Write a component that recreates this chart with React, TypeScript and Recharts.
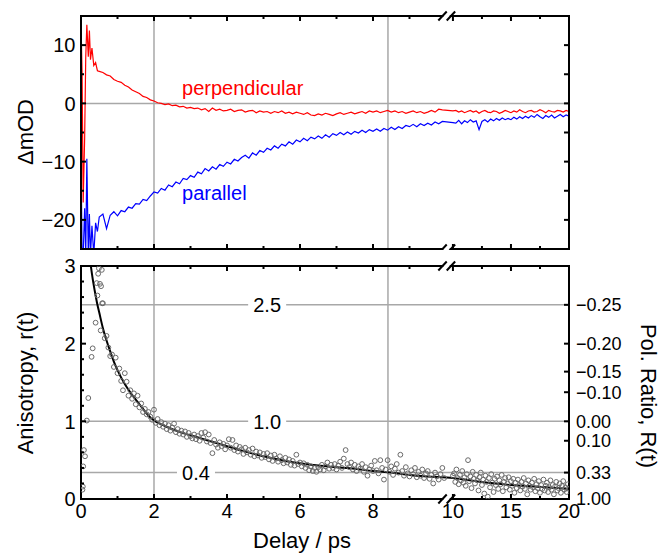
import React from "react";
import {
  ComposedChart,
  Line,
  ReferenceDot,
  ReferenceLine,
  Scatter,
  XAxis,
  YAxis,
} from "recharts";

// ---- values ----

// pump-probe traces (ps, mOD)
const traceTimes = [
  0, 0.03, 0.06, 0.1, 0.13, 0.16, 0.2, 0.23, 0.26, 0.3, 0.35, 0.4, 0.45, 0.5,
  0.6, 0.7, 0.8, 0.9, 1, 1.1, 1.2, 1.3, 1.4, 1.5, 1.6, 1.7, 1.8, 1.9, 2,
  2.1, 2.2, 2.3, 2.4, 2.5, 2.6, 2.7, 2.8, 2.9, 3,
  3.1, 3.2, 3.3, 3.4, 3.5, 3.6, 3.7, 3.8, 3.9, 4,
  4.1, 4.2, 4.3, 4.4, 4.5, 4.6, 4.7, 4.8, 4.9, 5,
  5.1, 5.2, 5.3, 5.4, 5.5, 5.6, 5.7, 5.8, 5.9, 6,
  6.1, 6.2, 6.3, 6.4, 6.5, 6.6, 6.7, 6.8, 6.9, 7,
  7.1, 7.2, 7.3, 7.4, 7.5, 7.6, 7.7, 7.8, 7.9, 8,
  8.1, 8.2, 8.3, 8.4, 8.5, 8.6, 8.7, 8.8, 8.9, 9,
  9.1, 9.2, 9.3, 9.4, 9.5, 9.6, 9.7, 9.8, 9.9, 10,
  10.25, 10.5, 10.75, 11, 11.25, 11.5, 11.75, 12, 12.25, 12.5,
  12.75, 13, 13.25, 13.5, 13.75, 14, 14.25, 14.5, 14.75, 15,
  15.25, 15.5, 15.75, 16, 16.25, 16.5, 16.75, 17, 17.25, 17.5,
  17.75, 18, 18.25, 18.5, 18.75, 19, 19.25, 19.5, 19.75, 20,
];

const perpendicular = [
  14, 5, -17, -6, 8, 13.5, 8, 12.5, 7.5, 9.5, 6.5, 7, 5.6, 5.5,
  5.3, 4.9, 4.7, 4.1, 3.8, 3.6, 3.1, 2.8, 2.3, 2.0, 1.7, 1.2, 1.0, 0.6, 0.4,
  0.1, 0.0, -0.2, -0.1, -0.4, -0.3, -0.6, -0.5, -0.8, -0.7,
  -0.9, -0.8, -1.1, -0.9, -1.4, -0.8, -1.2, -1.0, -1.3, -1.2,
  -1.0, -1.4, -1.2, -1.1, -1.5, -1.3, -1.2, -1.6, -1.3, -1.5,
  -1.4, -1.7, -1.4, -1.6, -1.3, -1.7, -1.5, -1.8, -1.5, -1.7,
  -1.9, -1.6, -2.0, -2.1, -1.8, -2.0, -1.7, -1.9, -2.1, -1.8,
  -1.6, -1.9, -1.7, -1.5, -1.8, -1.6, -1.4, -1.7, -1.3, -1.5,
  -1.3, -1.6, -1.4, -1.2, -1.5, -1.3, -1.6, -1.4, -1.7, -1.5,
  -1.3, -1.6, -1.4, -1.7, -1.5, -1.2, -1.5, -1.0, -1.1, -1.3,
  -1.2, -1.5, -1.3, -1.6, -1.4, -1.2, -1.5, -1.3, -1.7, -1.4,
  -1.2, -1.5, -1.6, -1.3, -1.4, -1.7, -1.5, -1.2, -1.4, -1.6,
  -1.3, -1.5, -1.1, -1.4, -1.6, -1.3, -1.2, -1.5, -1.4, -1.1,
  -1.3, -1.6, -1.2, -1.4, -1.5, -1.2, -1.3, -1.5, -1.2, -1.4,
];

const parallel = [
  -9, -26, -26, -18, -26, -9.5, -26, -19, -26, -21, -26, -20.5, -22, -19.5,
  -19.0, -21.5, -19.2, -18.6, -19.3, -18.4, -18.6, -17.8, -18.0, -17.2, -17.3, -16.5, -16.7, -15.9, -15.2,
  -15.4, -14.6, -14.9, -14.0, -14.3, -13.5, -13.8, -12.9, -13.1, -12.4,
  -12.7, -11.8, -12.1, -11.2, -11.6, -10.9, -11.3, -10.5, -10.8, -10.1,
  -10.4, -9.6, -9.9, -9.3, -8.9, -9.4, -8.5, -8.9, -8.1, -8.4,
  -7.7, -8.0, -7.3, -7.7, -7.0, -7.3, -6.6, -7.0, -6.3, -6.6,
  -6.0, -6.4, -5.8, -6.1, -5.6, -6.0, -5.4, -5.8, -5.2, -5.5,
  -5.0, -5.4, -4.9, -5.3, -4.8, -5.1, -4.6, -5.0, -4.5, -4.8,
  -4.4, -4.8, -4.3, -4.6, -4.1, -4.5, -4.0, -4.3, -3.8, -4.0,
  -3.6, -4.0, -3.5, -3.8, -3.4, -3.7, -3.2, -3.5, -3.1, -3.3,
  -3.4, -2.9, -3.5, -3.0, -3.3, -2.8, -3.2, -3.0, -4.5, -3.1,
  -2.8, -3.2, -2.7, -3.0, -2.6, -2.9, -2.5, -2.8, -2.6, -2.8,
  -2.4, -2.7, -2.3, -2.6, -2.2, -2.5, -2.1, -2.4, -1.9, -2.3,
  -2.6, -2.1, -2.4, -2.0, -2.5, -2.2, -1.9, -2.3, -2.0, -2.2,
];

// anisotropy points (ps, r)
const anisotropyTimes = [
  0.04, 0.05, 0.06, 0.08, 0.11, 0.16, 0.2, 0.29, 0.32, 0.4, 0.43, 0.45, 0.47, 0.49, 0.52, 0.54, 0.55, 0.57, 0.58, 0.6,
  0.65, 0.7, 0.75, 0.8, 0.85, 0.9, 0.95, 1,
  1.05, 1.1, 1.15, 1.2, 1.25, 1.3, 1.35, 1.4, 1.45, 1.5, 1.55, 1.6, 1.65, 1.7, 1.75, 1.8, 1.85, 1.9, 1.95, 2,
  2.05, 2.1, 2.15, 2.2, 2.25, 2.3, 2.35, 2.4, 2.45, 2.5, 2.55, 2.6, 2.65, 2.7, 2.75, 2.8, 2.85, 2.9, 2.95, 3,
  3.05, 3.1, 3.15, 3.2, 3.25, 3.3, 3.35, 3.4, 3.45, 3.5, 3.55, 3.6, 3.65, 3.7, 3.75, 3.8, 3.85, 3.9, 3.95, 4,
  4.05, 4.1, 4.15, 4.2, 4.25, 4.3, 4.35, 4.4, 4.45, 4.5, 4.55, 4.6, 4.65, 4.7, 4.75, 4.8, 4.85, 4.9, 4.95, 5,
  5.05, 5.1, 5.15, 5.2, 5.25, 5.3, 5.35, 5.4, 5.45, 5.5, 5.55, 5.6, 5.65, 5.7, 5.75, 5.8, 5.85, 5.9, 5.95, 6,
  6.05, 6.1, 6.15, 6.2, 6.25, 6.3, 6.35, 6.4, 6.45, 6.5, 6.55, 6.6, 6.65, 6.7, 6.75, 6.8, 6.85, 6.9, 6.95, 7,
  7.05, 7.1, 7.15, 7.2, 7.25, 7.3, 7.35, 7.4, 7.45, 7.5, 7.55, 7.6, 7.65, 7.7, 7.75, 7.8, 7.85, 7.9, 7.95, 8,
  8.05, 8.1, 8.15, 8.2, 8.25, 8.3, 8.35, 8.4, 8.45, 8.5, 8.55, 8.6, 8.65, 8.7, 8.75, 8.8, 8.85, 8.9, 8.95, 9,
  9.05, 9.1, 9.15, 9.2, 9.25, 9.3, 9.35, 9.4, 9.45, 9.5, 9.55, 9.6, 9.65, 9.7, 9.75, 9.8, 9.85, 9.9, 9.95, 10,
  10.1, 10.2, 10.3, 10.4, 10.5, 10.6, 10.7, 10.8, 10.9, 11,
  11.1, 11.2, 11.3, 11.4, 11.5, 11.6, 11.7, 11.8, 11.9, 12,
  12.1, 12.2, 12.3, 12.4, 12.5, 12.6, 12.7, 12.8, 12.9, 13,
  13.1, 13.2, 13.3, 13.4, 13.5, 13.6, 13.7, 13.8, 13.9, 14,
  14.1, 14.2, 14.3, 14.4, 14.5, 14.6, 14.7, 14.8, 14.9, 15,
  15.1, 15.2, 15.3, 15.4, 15.5, 15.6, 15.7, 15.8, 15.9, 16,
  16.1, 16.2, 16.3, 16.4, 16.5, 16.6, 16.7, 16.8, 16.9, 17,
  17.1, 17.2, 17.3, 17.4, 17.5, 17.6, 17.7, 17.8, 17.9, 18,
  18.1, 18.2, 18.3, 18.4, 18.5, 18.6, 18.7, 18.8, 18.9, 19,
  19.1, 19.2, 19.3, 19.4, 19.5, 19.6, 19.7, 19.8, 19.9, 20,
];

const anisotropy = [
  0.12, 0.16, 0.42, 0.63, 0.55, 1.01, 1.3, 1.83, 1.94, 2.27, 2.78, 2.62, 2.9, 2.97, 2.77, 2.17, 2.74, 2.95, 2.52, 2.52,
  2.07, 2.1, 1.95, 1.84, 1.86, 1.7, 1.82, 1.62,
  1.68, 1.52, 1.4, 1.62, 1.51, 1.33, 1.4, 1.29, 1.36, 1.22, 1.33, 1.18, 1.23, 1.12, 1.16, 1.09, 1.12, 1.06, 1.02, 1.15,
  0.98, 1.03, 0.95, 0.99, 0.93, 0.97, 0.9, 0.95, 0.88, 0.92, 0.97, 0.86, 0.9, 0.84, 0.88, 0.83, 0.87, 0.8, 0.85, 0.81,
  0.78, 0.83, 0.77, 0.81, 0.75, 0.85, 0.79, 0.86, 0.74, 0.83, 0.72, 0.59, 0.76, 0.7, 0.66, 0.73, 0.68, 0.71, 0.64, 0.69,
  0.77, 0.66, 0.76, 0.63, 0.69, 0.61, 0.67, 0.64, 0.58, 0.66, 0.6, 0.63, 0.57, 0.65, 0.55, 0.61, 0.56, 0.6, 0.53, 0.58,
  0.54, 0.59, 0.51, 0.56, 0.49, 0.57, 0.52, 0.48, 0.55, 0.5, 0.46, 0.53, 0.47, 0.51, 0.44, 0.49, 0.43, 0.57, 0.45, 0.47,
  0.42, 0.46, 0.4, 0.44, 0.37, 0.42, 0.36, 0.4, 0.35, 0.41, 0.38, 0.44, 0.37, 0.42, 0.47, 0.39, 0.44, 0.4, 0.45, 0.38,
  0.43, 0.48, 0.4, 0.52, 0.63, 0.45, 0.41, 0.47, 0.38, 0.44, 0.36, 0.42, 0.39, 0.45, 0.35, 0.41, 0.3, 0.38, 0.43, 0.36,
  0.49, 0.37, 0.33, 0.5, 0.4, 0.25, 0.38, 0.5, 0.35, 0.42, 0.31, 0.39, 0.45, 0.34, 0.57, 0.36, 0.3, 0.41, 0.33, 0.29,
  0.37, 0.32, 0.4, 0.28, 0.35, 0.3, 0.38, 0.27, 0.33, 0.36, 0.26, 0.31, 0.2, 0.34, 0.29, 0.25, 0.32, 0.4, 0.27, 0.3,
  0.33, 0.22, 0.38, 0.27, 0.19, 0.31, 0.24, 0.36, 0.21, 0.28,
  0.17, 0.32, 0.5, 0.23, 0.29, 0.14, 0.35, 0.26, 0.2, 0.31,
  0.24, 0.11, 0.28, 0.34, 0.18, 0.25, 0.07, 0.3, 0.22, 0.03,
  0.27, 0.15, 0.32, 0.21, 0.09, 0.26, 0.18, 0.29, 0.13, 0.24,
  0.19, 0.31, 0.1, 0.22, 0.27, 0.15, 0.2, 0.28, 0.12, 0.23,
  0.17, 0.26, 0.08, 0.21, 0.14, 0.25, 0.18, 0.11, 0.22, 0.16,
  0.27, 0.13, 0.2, 0.06, 0.24, 0.17, 0.12, 0.21, 0.15, 0.26,
  0.1, 0.19, 0.14, 0.23, 0.08, 0.18, 0.13, 0.25, 0.11, 0.17,
  0.21, 0.09, 0.15, 0.24, 0.12, 0.18, 0.06, 0.16, 0.22, 0.11,
  0.14, 0.2, 0.08, 0.17, 0.23, 0.12, 0.15, 0.09, 0.19, 0.13,
];

// fitted decay
const fitTimes = [
  0.27, 0.3, 0.35, 0.4, 0.45, 0.5, 0.6, 0.7, 0.8, 0.9, 1, 1.2, 1.4, 1.6, 1.8, 2, 2.3, 2.6, 3,
  3.5, 4, 4.5, 5, 5.5, 6, 6.5, 7, 7.5, 8, 8.5, 9, 9.5, 10, 11, 12, 13, 14, 15, 16, 17, 18, 19, 20,
];
const fitValues = [
  3.0, 2.9, 2.75, 2.62, 2.5, 2.4, 2.2, 2.04, 1.9, 1.77, 1.66, 1.48, 1.34, 1.22, 1.1, 1.01, 0.94, 0.88, 0.82,
  0.75, 0.68, 0.61, 0.55, 0.5, 0.46, 0.43, 0.41, 0.39, 0.36, 0.34, 0.31, 0.29, 0.27, 0.25, 0.23, 0.21, 0.195, 0.18,
  0.17, 0.16, 0.15, 0.14, 0.13,
];

// axes
const xMajor = [0, 2, 4, 6, 8, 10, 15, 20];
const xMinor = [1, 3, 5, 7, 9, 12.5, 17.5];
const xGrid = [2, 8.41];
const dmodMajor = [10, 0, -10, -20];
const dmodLabels = ["10", "0", "\u221210", "\u221220"];
const dmodMinor = [5, -5, -15];
const dmodRight = [10, 5, 0, -5, -10, -15, -20];
const rMajor = [0, 1, 2, 3];
const rMinor = [0.2, 0.4, 0.6, 0.8, 1.2, 1.4, 1.6, 1.8, 2.2, 2.4, 2.6, 2.8];
const ratioAt = [2.5, 2.0, 1.64, 1.375, 1.0, 0.75, 0.34, 0];
const ratioLabels = ["\u22120.25", "\u22120.20", "\u22120.15", "\u22120.10", "0.00", "0.10", "0.33", "1.00"];
const rGrid = [2.5, 1.0, 0.34];
const rGridLabels = ["2.5", "1.0", "0.4"];
const rGridLabelAt = [5.1, 5.1, 3.15];

// ---- layout ----
const FONT = "'Liberation Sans', Arial, Helvetica, sans-serif";
const GRID = "#a8a8a8";

// delay axis broken at 10 ps: 0-10 linear, 10-20 squeezed
const toAxis = (t: number) => (t < 10 ? t : 10.19 + (t - 10) * 0.318);
const X_MAX = toAxis(20);
const BREAK_AT = 10.02;
const GAP_FROM = 9.9;
const GAP_TO = 10.13;
const xTicks = [...xMajor, ...xMinor].map(toAxis);

// axes are 1px thick so recharts draws them; ticks are drawn inward by hand
const axisBase = {
  allowDataOverflow: true,
  interval: 0 as const,
  tickSize: 0,
  tickMargin: 0,
  axisLine: false,
  tickLine: false,
};

function xTick(side: "top" | "bottom", showLabel: boolean) {
  return (p: any) => {
    const major = p.index < xMajor.length;
    const dir = side === "bottom" ? -1 : 1;
    return (
      <g>
        <line x1={p.x} y1={p.y} x2={p.x} y2={p.y + dir * (major ? 5 : 3)} stroke="#000" strokeWidth={2} />
        {showLabel && major ? (
          <text x={p.x} y={p.y + 19} textAnchor="middle" fontSize={20} fontFamily={FONT} fill="#000">
            {xMajor[p.index]}
          </text>
        ) : null}
      </g>
    );
  };
}

function leftTick(nMajor: number, labels: string[]) {
  return (p: any) => {
    const major = p.index < nMajor;
    return (
      <g>
        <line x1={p.x} y1={p.y} x2={p.x + (major ? 5 : 3)} y2={p.y} stroke="#000" strokeWidth={2} />
        {major ? (
          <text x={p.x - 5.5} y={p.y} dy="0.36em" textAnchor="end" fontSize={20} fontFamily={FONT} fill="#000">
            {labels[p.index]}
          </text>
        ) : null}
      </g>
    );
  };
}

function rightTick(labels: string[] | null) {
  return (p: any) => (
    <g>
      <line x1={p.x} y1={p.y} x2={p.x - 5} y2={p.y} stroke="#000" strokeWidth={2} />
      {labels ? (
        <text x={p.x + 7} y={p.y} dy="0.36em" textAnchor="start" fontSize={18} fontFamily={FONT} fill="#000">
          {labels[p.index]}
        </text>
      ) : null}
    </g>
  );
}

const breakMark = (p: any) => (
  <g>
    <line x1={p.cx - 8.4} y1={p.cy + 4.5} x2={p.cx} y2={p.cy - 4.5} stroke="#000" strokeWidth={2} />
    <line x1={p.cx} y1={p.cy + 4.5} x2={p.cx + 8.4} y2={p.cy - 4.5} stroke="#000" strokeWidth={2} />
  </g>
);

const gridLabel = (text: string) => (p: any) => (
  <g>
    <rect x={p.cx - 19} y={p.cy - 9} width={38} height={18} fill="#fff" />
    <text x={p.cx} y={p.cy} dy="0.36em" textAnchor="middle" fontSize={20} fontFamily={FONT} fill="#000">
      {text}
    </text>
  </g>
);

const annotation = (text: string, color: string) => (p: any) => (
  <text x={p.cx} y={p.cy} fontSize={20} fontFamily={FONT} fill={color}>
    {text}
  </text>
);

function Frame({ yMin, yMax }: { yMin: number; yMax: number }) {
  const common = { xAxisId: "b", yAxisId: "l", stroke: "#000", strokeWidth: 2, strokeLinecap: "square" as const };
  return (
    <>
      <ReferenceLine {...common} segment={[{ x: 0, y: yMax }, { x: GAP_FROM, y: yMax }]} />
      <ReferenceLine {...common} segment={[{ x: GAP_TO, y: yMax }, { x: X_MAX, y: yMax }]} />
      <ReferenceLine {...common} segment={[{ x: 0, y: yMin }, { x: GAP_FROM, y: yMin }]} />
      <ReferenceLine {...common} segment={[{ x: GAP_TO, y: yMin }, { x: X_MAX, y: yMin }]} />
      <ReferenceLine {...common} x={0} />
      <ReferenceLine {...common} x={X_MAX} />
    </>
  );
}

function TracesPanel() {
  const data = traceTimes.map((t, i) => ({ x: toAxis(t), perp: perpendicular[i], par: parallel[i] }));
  return (
    <ComposedChart width={660} height={250} data={data} margin={{ top: 15, right: 90, bottom: 0, left: 80 }}>
      <XAxis xAxisId="b" type="number" dataKey="x" domain={[0, X_MAX]} ticks={xTicks} height={1}
        {...axisBase} tick={xTick("bottom", false)} />
      <XAxis xAxisId="t" orientation="top" type="number" dataKey="x" domain={[0, X_MAX]} ticks={xTicks} height={1}
        {...axisBase} tick={xTick("top", false)} />
      <YAxis yAxisId="l" type="number" domain={[-25, 15]} ticks={[...dmodMajor, ...dmodMinor]} width={1}
        {...axisBase} tick={leftTick(dmodMajor.length, dmodLabels)} />
      <YAxis yAxisId="r" orientation="right" type="number" domain={[-25, 15]} ticks={dmodRight} width={1}
        {...axisBase} tick={rightTick(null)} />

      {xGrid.map((g) => (
        <ReferenceLine key={`gx${g}`} xAxisId="b" yAxisId="l" x={g} stroke={GRID} strokeWidth={1.5} />
      ))}
      <ReferenceLine xAxisId="b" yAxisId="l" y={0} stroke={GRID} strokeWidth={1.5} />

      <Line xAxisId="b" yAxisId="l" dataKey="perp" stroke="#ff0000" strokeWidth={1.2} dot={false}
        isAnimationActive={false} />
      <Line xAxisId="b" yAxisId="l" dataKey="par" stroke="#0000ff" strokeWidth={1.2} dot={false}
        isAnimationActive={false} />

      <ReferenceDot xAxisId="b" yAxisId="l" x={2.77} y={1.37} r={0} shape={annotation("perpendicular", "#ff0000")} />
      <ReferenceDot xAxisId="b" yAxisId="l" x={2.77} y={-16.6} r={0} shape={annotation("parallel", "#0000ff")} />

      <Frame yMin={-25} yMax={15} />
      <ReferenceDot xAxisId="b" yAxisId="l" x={BREAK_AT} y={15} r={0} ifOverflow="visible" shape={breakMark} />
      <ReferenceDot xAxisId="b" yAxisId="l" x={BREAK_AT} y={-25} r={0} ifOverflow="visible" shape={breakMark} />
    </ComposedChart>
  );
}

function AnisotropyPanel() {
  const points = anisotropyTimes.map((t, i) => ({ x: toAxis(t), y: anisotropy[i] }));
  const fit = fitTimes.map((t, i) => ({ x: toAxis(t), y: fitValues[i] }));
  return (
    <ComposedChart width={660} height={304} margin={{ top: 15, right: 90, bottom: 54, left: 80 }}>
      <XAxis xAxisId="b" type="number" dataKey="x" domain={[0, X_MAX]} ticks={xTicks} height={1}
        {...axisBase} tick={xTick("bottom", true)} />
      <XAxis xAxisId="t" orientation="top" type="number" dataKey="x" domain={[0, X_MAX]} ticks={xTicks} height={1}
        {...axisBase} tick={xTick("top", false)} />
      <YAxis yAxisId="l" type="number" dataKey="y" domain={[0, 3]} ticks={[...rMajor, ...rMinor]} width={1}
        {...axisBase} tick={leftTick(rMajor.length, rMajor.map(String))} />
      <YAxis yAxisId="r" orientation="right" type="number" domain={[0, 3]} ticks={ratioAt} width={1}
        {...axisBase} tick={rightTick(ratioLabels)} />

      {xGrid.map((g) => (
        <ReferenceLine key={`gx${g}`} xAxisId="b" yAxisId="l" x={g} stroke={GRID} strokeWidth={1.5} />
      ))}
      {rGrid.map((g) => (
        <ReferenceLine key={`gy${g}`} xAxisId="b" yAxisId="l" y={g} stroke={GRID} strokeWidth={1.5} />
      ))}
      {rGrid.map((g, i) => (
        <ReferenceDot key={`gl${g}`} xAxisId="b" yAxisId="l" x={rGridLabelAt[i]} y={g} r={0}
          shape={gridLabel(rGridLabels[i])} />
      ))}

      <Scatter xAxisId="b" yAxisId="l" data={points} dataKey="y" isAnimationActive={false}
        shape={(p: any) => <circle cx={p.cx} cy={p.cy} r={2.4} fill="none" stroke="#6a6a6a" strokeWidth={1} />} />
      <Line xAxisId="b" yAxisId="l" data={fit} dataKey="y" type="monotone" stroke="#000" strokeWidth={2}
        dot={false} isAnimationActive={false} />

      <Frame yMin={0} yMax={3} />
      <ReferenceDot xAxisId="b" yAxisId="l" x={BREAK_AT} y={3} r={0} ifOverflow="visible" shape={breakMark} />
      <ReferenceDot xAxisId="b" yAxisId="l" x={BREAK_AT} y={0} r={0} ifOverflow="visible" shape={breakMark} />
    </ComposedChart>
  );
}

export default function App() {
  return (
    <div style={{ position: "absolute", left: 0, top: 0, width: 660, height: 554, background: "#fff", fontFamily: FONT }}>
      <div style={{ position: "absolute", left: 0, top: 0 }}>
        <TracesPanel />
      </div>
      <div style={{ position: "absolute", left: 0, top: 250 }}>
        <AnisotropyPanel />
      </div>
      <svg width={660} height={554} style={{ position: "absolute", left: 0, top: 0, pointerEvents: "none" }}>
        <g fontFamily={FONT} fontSize={22} fill="#000">
          <text transform="translate(25,132) rotate(-90)" textAnchor="middle" dy="0.36em">ΔmOD</text>
          <text transform="translate(25,383) rotate(-90)" textAnchor="middle" dy="0.36em">Anisotropy, r(t)</text>
          <text transform="translate(649,396) rotate(90)" textAnchor="middle" dy="0.36em">Pol. Ratio, R(t)</text>
          <text x={302} y={548} textAnchor="middle">Delay / ps</text>
        </g>
      </svg>
    </div>
  );
}
